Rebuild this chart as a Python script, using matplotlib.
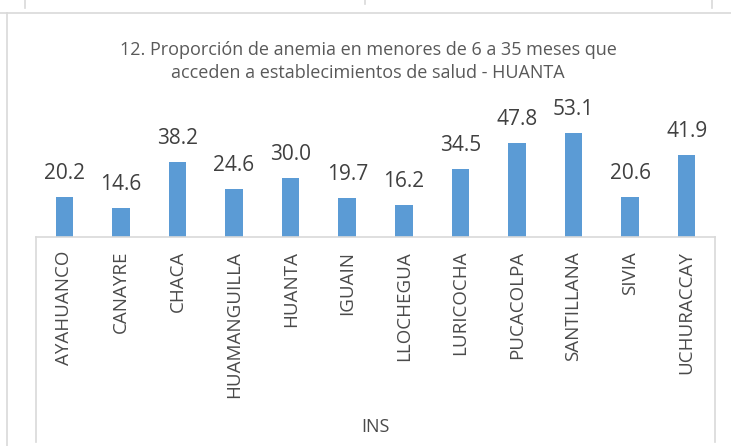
import matplotlib.pyplot as plt
from matplotlib.lines import Line2D

plt.rcParams['font.family'] = ['Open Sans', 'DejaVu Sans']

distritos = ['AYAHUANCO', 'CANAYRE', 'CHACA', 'HUAMANGUILLA', 'HUANTA', 'IGUAIN',
             'LLOCHEGUA', 'LURICOCHA', 'PUCACOLPA', 'SANTILLANA', 'SIVIA', 'UCHURACCAY']
anemia = [20.2, 14.6, 38.2, 24.6, 30.0, 19.7, 16.2, 34.5, 47.8, 53.1, 20.6, 41.9]

W, H = 731, 446
fig = plt.figure(figsize=(W / 100, H / 100), dpi=100)
grey = '#d9d9d9'

def px_line(xs, ys, **kw):
    # coordinates in pixels from top-left
    fig.add_artist(Line2D([x / W for x in xs], [1 - y / H for y in ys],
                          transform=fig.transFigure, color=grey, lw=1.2, **kw))

# frame pieces from the surrounding page
px_line([0, W], [13, 13])
px_line([7, 7], [13, H])
px_line([25, 25], [0, 8])
px_line([712, 712], [0, 8])
px_line([365, 365], [0, 4])

ax = fig.add_axes([36 / W, (H - 237) / H, (715 - 36) / W, 117.6 / H])
x = range(len(distritos))
bars = ax.bar(x, anemia, width=0.31, color='#5b9bd5')
ax.set_xlim(-0.5, len(distritos) - 0.5)
ax.set_ylim(0, 60)
for b, v in zip(bars, anemia):
    ax.text(b.get_x() + b.get_width() / 2, v + 9.2, f'{v:.1f}', ha='center', va='baseline',
            fontsize=15, color='#404040', clip_on=False)

for s in ['top', 'left', 'right']:
    ax.spines[s].set_visible(False)
ax.spines['bottom'].set_color(grey)
ax.spines['bottom'].set_linewidth(1.2)
ax.set_yticks([])
ax.set_xticks(list(x))
ax.set_xticklabels(distritos, rotation=90, fontsize=13.5, color='#4a4a4a')
ax.tick_params(axis='x', length=0, pad=10)

# category box below the axis
px_line([36, 36], [237, 442])
px_line([715, 715], [237, 442])

fig.text(375 / W, 1 - 427 / H, 'INS', ha='center', va='center', fontsize=13, color='#4a4a4a')
fig.text(368 / W, 1 - 61.5 / H,
         '12. Proporción de anemia en menores de 6 a 35 meses que\nacceden a establecimientos de salud - HUANTA',
         ha='center', va='center', fontsize=13, color='#595959', linespacing=1.42)

fig.savefig('out.png', dpi=100)
